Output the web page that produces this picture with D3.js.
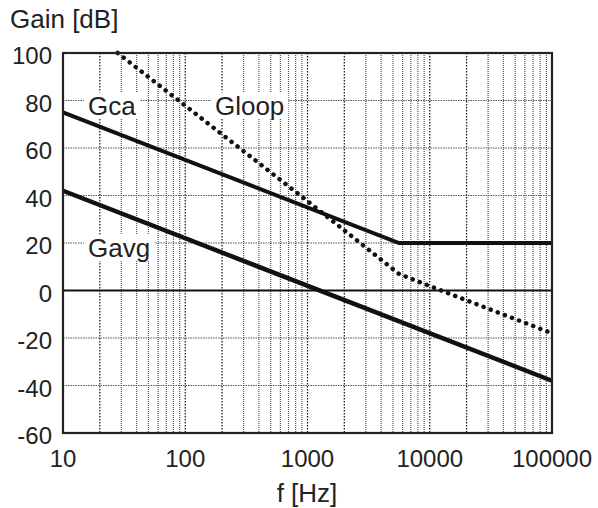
<!DOCTYPE html>
<html><head><meta charset="utf-8">
<script src="https://cdn.jsdelivr.net/npm/d3@7/dist/d3.min.js"></script>
<style>body{margin:0;background:#fff}svg{display:block}</style>
</head><body><svg id="c" width="598" height="508"></svg>
<script>
const xTicks = [10, 100, 1000, 10000, 100000];
const xTickLabels = ["10", "100", "1000", "10000", "100000"];
const yTicks = [-60, -40, -20, 0, 20, 40, 60, 80, 100];
const gcaFreq = [10, 5600, 100000];
const gcaDb = [75, 20, 20];
const gavgFreq = [10, 100000];
const gavgDb = [42, -38];
const gloopFreq = [28, 900, 2775, 5600, 9500, 100000];
const gloopDb = [100, 39.5, 19.5, 7, 2.3, -18];
const seriesLabels = [
  {text: "Gca", f: 16, db: 80},
  {text: "Gloop", f: 175, db: 80},
  {text: "Gavg", f: 16, db: 20}
];

const svg = d3.select("#c");
const L = 63, R = 552, T = 53, B = 433;
const x = d3.scaleLog().domain([10, 100000]).range([L, R]);
const y = d3.scaleLinear().domain([-60, 100]).range([B, T]);
const font = "'Liberation Sans', Arial, sans-serif";
const txt = "#222";

const mant = d => Math.round(d / Math.pow(10, Math.floor(Math.log10(d) + 1e-9)));
// grid: vertical minor/major
const vgrid = [];
for (let d = 10; d < 100000; d *= 10) for (let k = 1; k < 10; k++) if (!(d === 10 && k === 1)) vgrid.push(d * k);
svg.append("g").selectAll("line").data(vgrid).join("line")
  .attr("x1", d => x(d)).attr("x2", d => x(d)).attr("y1", T).attr("y2", B)
  .attr("stroke", d => (mant(d) === 1 || mant(d) === 2) ? "#111" : "#555")
  .attr("stroke-width", 1.2)
  .attr("stroke-dasharray", d => (mant(d) === 1 || mant(d) === 2) ? "1.5,1.5" : "1,1");
// horizontal grid
svg.append("g").selectAll("line").data(yTicks.filter(v => v !== -60 && v !== 100 && v !== 0)).join("line")
  .attr("x1", L).attr("x2", R).attr("y1", d => y(d)).attr("y2", d => y(d))
  .attr("stroke", "#555").attr("stroke-width", 1.2).attr("stroke-dasharray", "1.5,1");

// label backgrounds
const lblG = svg.append("g");
seriesLabels.forEach(s => {
  const t = lblG.append("text").attr("x", x(s.f)).attr("y", y(s.db) + 14)
    .attr("font-family", font).attr("font-size", 26).attr("fill", txt).text(s.text);
  const bb = t.node().getBBox();
  lblG.insert("rect", "text").attr("x", bb.x - 4).attr("y", bb.y + 2).attr("width", bb.width + 8).attr("height", bb.height - 4).attr("fill", "#fff");
});

// zero line
svg.append("line").attr("x1", L).attr("x2", R).attr("y1", y(0)).attr("y2", y(0)).attr("stroke", "#111").attr("stroke-width", 2.2);

const line = d3.line().x(d => x(d[0])).y(d => y(d[1]));
svg.append("path").datum(gcaFreq.map((f, i) => [f, gcaDb[i]])).attr("d", line)
  .attr("fill", "none").attr("stroke", "#111").attr("stroke-width", 4);
svg.append("path").datum(gavgFreq.map((f, i) => [f, gavgDb[i]])).attr("d", line)
  .attr("fill", "none").attr("stroke", "#111").attr("stroke-width", 4.5);
svg.append("path").datum(gloopFreq.map((f, i) => [f, gloopDb[i]])).attr("d", line)
  .attr("fill", "none").attr("stroke", "#111").attr("stroke-width", 4.5)
  .attr("stroke-linecap", "round").attr("stroke-dasharray", "0.1,7.5");

// frame
svg.append("rect").attr("x", L).attr("y", T).attr("width", R - L).attr("height", B - T)
  .attr("fill", "none").attr("stroke", "#222").attr("stroke-width", 2.2);

// y tick labels
svg.append("g").selectAll("text").data(yTicks).join("text")
  .attr("x", 52).attr("y", d => y(d) + 11).attr("text-anchor", "end")
  .attr("font-family", font).attr("font-size", 24).attr("fill", txt).text(d => d);
// x tick labels
svg.append("g").selectAll("text").data(xTicks).join("text")
  .attr("x", d => x(d)).attr("y", 467).attr("text-anchor", "middle")
  .attr("font-family", font).attr("font-size", 24).attr("fill", txt).text((d, i) => xTickLabels[i]);

svg.append("text").attr("x", 307).attr("y", 502).attr("text-anchor", "middle")
  .attr("font-family", font).attr("font-size", 26).attr("fill", txt).text("f [Hz]");
svg.append("text").attr("x", 10).attr("y", 28)
  .attr("font-family", font).attr("font-size", 26).attr("fill", txt).text("Gain [dB]");
</script></body></html>
